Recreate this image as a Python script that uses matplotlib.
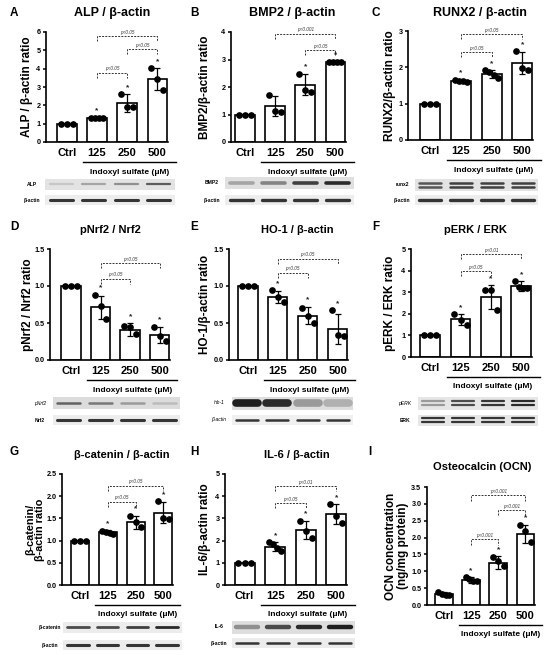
import numpy as np
import matplotlib.pyplot as plt
from matplotlib import transforms

plt.rcParams['font.family'] = ['Liberation Sans', 'DejaVu Sans']

groups = ['Ctrl', '125', '250', '500']

# A: ALP / beta-actin
alp_mean = [1.0, 1.3, 2.12, 3.42]
alp_sd = [0.02, 0.03, 0.48, 0.6]
alp_pts = [[1.0, 1.0, 1.0], [1.3, 1.3, 1.3, 1.3], [2.62, 1.93, 1.9], [4.02, 3.44, 2.83]]
alp_stars = [0, 1, 1, 1]
alp_sig = [(1, 2, 3.78, 'p<0.05'), (2, 3, 5.06, 'p<0.05'), (1, 3, 5.76, 'p<0.05')]
alp_band = [0.25, 0.4, 0.5, 0.72]

# B: BMP2 / beta-actin
bmp2_mean = [1.0, 1.3, 2.08, 2.9]
bmp2_sd = [0.02, 0.36, 0.38, 0.03]
bmp2_pts = [[1.0, 1.0, 1.0], [1.7, 1.12, 1.1], [2.48, 1.9, 1.82], [2.9, 2.9, 2.9, 2.9]]
bmp2_stars = [0, 0, 1, 1]
bmp2_sig = [(2, 3, 3.33, 'p<0.05'), (1, 3, 3.94, 'p<0.001')]
bmp2_band = [0.4, 0.55, 0.85, 0.95]

# C: RUNX2 / beta-actin
runx2_mean = [1.0, 1.62, 1.82, 2.12]
runx2_sd = [0.01, 0.04, 0.11, 0.3]
runx2_pts = [[1.0, 1.0, 1.0], [1.64, 1.63, 1.62, 1.6], [1.92, 1.87, 1.8, 1.72], [2.45, 1.98, 1.92]]
runx2_stars = [0, 1, 1, 1]
runx2_sig = [(1, 2, 2.42, 'p<0.05'), (1, 3, 2.91, 'p<0.05')]
runx2_band = [0.75, 0.85, 0.85, 0.85]

# D: pNrf2 / Nrf2
pnrf2_mean = [1.0, 0.71, 0.41, 0.34]
pnrf2_sd = [0.01, 0.16, 0.09, 0.11]
pnrf2_pts = [[1.0, 1.0, 1.0], [0.88, 0.73, 0.56], [0.46, 0.45, 0.35], [0.45, 0.32, 0.26]]
pnrf2_stars = [0, 1, 1, 1]
pnrf2_sig = [(1, 2, 1.1, 'p<0.05'), (1, 3, 1.31, 'p<0.05')]
pnrf2_band = [0.7, 0.6, 0.45, 0.3]

# E: HO-1 / beta-actin
ho1_mean = [1.0, 0.85, 0.6, 0.42]
ho1_sd = [0.01, 0.08, 0.12, 0.2]
ho1_pts = [[1.0, 1.0, 1.0], [0.94, 0.85, 0.78], [0.7, 0.6, 0.5], [0.67, 0.34, 0.32]]
ho1_stars = [0, 1, 1, 1]
ho1_sig = [(1, 2, 1.18, 'p<0.05'), (1, 3, 1.37, 'p<0.05')]
ho1_band = [1.0, 0.95, 0.45, 0.35]

# F: pERK / ERK
perk_mean = [1.0, 1.75, 2.77, 3.29]
perk_sd = [0.02, 0.25, 0.57, 0.22]
perk_pts = [[1.0, 1.0, 1.0], [2.0, 1.69, 1.5], [3.11, 3.08, 2.18], [3.52, 3.22, 3.2, 3.2]]
perk_stars = [0, 1, 1, 1]
perk_sig = [(1, 2, 3.98, 'p<0.05'), (1, 3, 4.75, 'p<0.01')]
perk_band = [0.45, 0.8, 0.9, 0.95]

# G: beta-catenin / beta-actin
bcat_mean = [1.0, 1.19, 1.41, 1.63]
bcat_sd = [0.01, 0.04, 0.15, 0.24]
bcat_pts = [[1.0, 1.0, 1.0], [1.22, 1.2, 1.18, 1.15], [1.56, 1.41, 1.3], [1.89, 1.5, 1.49]]
bcat_stars = [0, 1, 1, 1]
bcat_sig = [(1, 2, 1.88, 'p<0.05'), (1, 3, 2.24, 'p<0.05')]
bcat_band = [0.8, 0.8, 0.85, 0.95]

# H: IL-6 / beta-actin
il6_mean = [1.0, 1.73, 2.48, 3.18]
il6_sd = [0.02, 0.2, 0.4, 0.45]
il6_pts = [[1.0, 1.0, 1.0], [1.92, 1.85, 1.65, 1.55], [2.9, 2.45, 2.1], [3.65, 3.12, 2.8]]
il6_stars = [0, 1, 1, 1]
il6_sig = [(1, 2, 3.68, 'p<0.05'), (1, 3, 4.46, 'p<0.01')]
il6_band = [0.5, 0.8, 0.95, 1.0]

# I: Osteocalcin
ocn_mean = [0.33, 0.74, 1.26, 2.1]
ocn_sd = [0.05, 0.08, 0.18, 0.26]
ocn_pts = [[0.38, 0.33, 0.3, 0.3], [0.82, 0.76, 0.72, 0.7], [1.42, 1.3, 1.15], [2.38, 2.2, 1.86]]
ocn_stars = [0, 1, 1, 1]
ocn_sig = [(1, 2, 1.95, 'p<0.001'), (2, 3, 2.82, 'p<0.001'), (1, 3, 3.25, 'p<0.001')]

actin_band = [0.9, 0.9, 0.9, 0.9]

W, H = 550, 655
fig = plt.figure(figsize=(5.5, 6.55), dpi=100)

panels = [
    dict(letter='A', lxy=(10, 13), title='ALP / β-actin', txy=(112, 13), tsize=9,
         ylabel='ALP / β-actin ratio', ylx=27, ysz=8.5, box=(46, 122, 32, 142), xl=-0.69, ymax=6, ystep=1, fmt='%d',
         mean=alp_mean, sd=alp_sd, pts=alp_pts, stars=alp_stars, sig=alp_sig,
         blot=(45, 175), rows=[('ALP', alp_band, 184, 11, 1, 1.6, '#e3e3e3', False),
                               ('β-actin', actin_band, 200, 10, 1, 2.2, '#ededed', False)]),
    dict(letter='B', lxy=(190, 13), title='BMP2 / β-actin', txy=(292, 13), tsize=9,
         ylabel='BMP2/β-actin ratio', ylx=205, ysz=8.5, box=(231, 115, 32, 142), xl=-0.46, ymax=4, ystep=1, fmt='%d',
         mean=bmp2_mean, sd=bmp2_sd, pts=bmp2_pts, stars=bmp2_stars, sig=bmp2_sig,
         blot=(225, 354), rows=[('BMP2', bmp2_band, 183, 12, 1, 2.6, '#e0e0e0', False),
                                ('β-actin', actin_band, 200, 10, 1, 2.4, '#ededed', False)]),
    dict(letter='C', lxy=(372, 13), title='RUNX2 / β-actin', txy=(480, 13), tsize=9,
         ylabel='RUNX2/β-actin ratio', ylx=390, ysz=8.5, box=(408, 125, 31, 140), xl=-0.72, ymax=3, ystep=1, fmt='%d',
         mean=runx2_mean, sd=runx2_sd, pts=runx2_pts, stars=runx2_stars, sig=runx2_sig,
         blot=(415, 538), rows=[('runx2', runx2_band, 185, 12, 2, 1.8, '#e3e3e3', False),
                                ('β-actin', actin_band, 200, 10, 1, 2.4, '#ededed', False)]),
    dict(letter='D', lxy=(10, 227), title='pNrf2 / Nrf2', txy=(110, 230), tsize=8,
         ylabel='pNrf2 / Nrf2 ratio', ylx=28, ysz=8.5, box=(50, 120, 249, 360), xl=-0.71, ymax=1.5, ystep=0.5, fmt='%.1f',
         mean=pnrf2_mean, sd=pnrf2_sd, pts=pnrf2_pts, stars=pnrf2_stars, sig=pnrf2_sig,
         blot=(53, 180), rows=[('pNrf2', pnrf2_band, 403, 12, 1, 1.8, '#dcdcdc', True),
                               ('Nrf2', actin_band, 420, 10, 1, 2.2, '#ededed', False)]),
    dict(letter='E', lxy=(190, 227), title='HO-1 / β-actin', txy=(297, 230), tsize=8,
         ylabel='HO-1/β-actin ratio', ylx=205, ysz=8.5, box=(229, 119, 249, 360), xl=-0.63, ymax=1.5, ystep=0.5, fmt='%.1f',
         mean=ho1_mean, sd=ho1_sd, pts=ho1_pts, stars=ho1_stars, sig=ho1_sig,
         blot=(232, 353), rows=[('Ho-1', ho1_band, 403, 13, 1, 5.5, '#dedede', True),
                                ('β-actin', actin_band, 420, 10, 1, 1.8, '#f0f0f0', True)]),
    dict(letter='F', lxy=(372, 227), title='pERK / ERK', txy=(475, 230), tsize=8,
         ylabel='pERK / ERK ratio', ylx=390, ysz=8.5, box=(411, 121, 249, 357), xl=-0.63, ymax=5, ystep=1, fmt='%d',
         mean=perk_mean, sd=perk_sd, pts=perk_pts, stars=perk_stars, sig=perk_sig,
         blot=(418, 538), rows=[('pERK', perk_band, 403, 13, 2, 1.6, '#e6e6e6', True),
                                ('ERK', actin_band, 420, 11, 2, 1.6, '#e6e6e6', False)]),
    dict(letter='G', lxy=(10, 452), title='β-catenin / β-actin', txy=(122, 455), tsize=8,
         ylabel='β-catenin/\nβ-actin ratio', ylx=35, ysz=7.8, box=(62, 111, 474, 585), xl=-0.65, ymax=2.5, ystep=0.5, fmt='%.1f',
         mean=bcat_mean, sd=bcat_sd, pts=bcat_pts, stars=bcat_stars, sig=bcat_sig,
         blot=(63, 182), rows=[('β-catenin', bcat_band, 627, 11, 1, 2.0, '#ececec', False),
                               ('β-actin', actin_band, 645, 10, 1, 2.2, '#ececec', False)]),
    dict(letter='H', lxy=(190, 452), title='IL-6 / β-actin', txy=(297, 455), tsize=8,
         ylabel='IL-6/β-actin ratio', ylx=205, ysz=8.5, box=(225, 122, 474, 585), xl=-0.64, ymax=5, ystep=1, fmt='%d',
         mean=il6_mean, sd=il6_sd, pts=il6_pts, stars=il6_stars, sig=il6_sig,
         blot=(232, 355), rows=[('IL-6', il6_band, 627, 13, 1, 3.2, '#dedede', False),
                                ('β-actin', actin_band, 643, 10, 1, 1.8, '#ececec', False)]),
    dict(letter='I', lxy=(368, 452), title='Osteocalcin (OCN)', txy=(482, 467), tsize=8,
         ylabel='OCN concentration\n(ng/mg protein)', ylx=397, ysz=8.5, box=(427, 108, 487, 605), xl=-0.62, ymax=3.5, ystep=0.5, fmt='%.1f',
         mean=ocn_mean, sd=ocn_sd, pts=ocn_pts, stars=ocn_stars, sig=ocn_sig,
         blot=None, rows=[]),
]


def draw_panel(p):
    l, w, top, bot = p['box']
    ax = fig.add_axes([l / W, 1 - bot / H, w / W, (bot - top) / H])
    x = np.arange(len(groups))
    ymax = p['ymax']
    ax.bar(x, p['mean'], width=0.65, color='white', edgecolor='black', linewidth=1.2, zorder=1)
    ax.errorbar(x, p['mean'], yerr=p['sd'], fmt='none', ecolor='black', elinewidth=0.9,
                capsize=2.5, capthick=0.9, zorder=3)
    for i, pts in enumerate(p['pts']):
        off = np.linspace(-0.2, 0.2, len(pts))
        ax.plot(i + off, pts, 'o', color='black', ms=3.8, zorder=4, clip_on=False)
        if p['stars'][i]:
            top_val = max(max(pts), p['mean'][i] + p['sd'][i])
            ax.text(i, top_val + 0.06 * ymax, '*', ha='center', va='center', fontsize=6,
                    fontweight='bold', color='#222222')
    d = 0.045 * ymax
    for i, j, h, lab in p['sig']:
        ax.plot([i, i, j, j], [h - d, h, h, h - d], color='#333333', lw=0.7,
                ls=(0, (2, 1.3)), clip_on=False)
        ax.text((i + j) / 2, h + 0.012 * ymax, lab, ha='center', va='bottom', fontsize=3.3,
                style='italic', color='#333333')

    ax.set_xlim(p['xl'], 3.35)
    ax.set_ylim(0, ymax)
    yt = np.arange(0, ymax + 1e-9, p['ystep'])
    ax.set_yticks(yt)
    ax.set_yticklabels([p['fmt'] % v for v in yt], fontsize=5.2, fontweight='bold')
    ax.set_xticks(x)
    ax.set_xticklabels(groups, fontsize=8, fontweight='bold')
    ax.tick_params(axis='x', length=0, pad=4)
    ax.tick_params(axis='y', length=2.5, width=1.1, pad=1.5)
    for s in ['top', 'right']:
        ax.spines[s].set_visible(False)
    for s in ['left', 'bottom']:
        ax.spines[s].set_linewidth(1.2)

    # Indoxyl sulfate underline
    tr = transforms.blended_transform_factory(ax.transData, ax.transAxes)
    line_tr = tr + transforms.ScaledTranslation(0, -20 / 100, fig.dpi_scale_trans)
    text_tr = tr + transforms.ScaledTranslation(0, -30 / 100, fig.dpi_scale_trans)
    ax.plot([0.55, 3.6], [0, 0], transform=line_tr, color='black', lw=1.0, clip_on=False)
    ax.text(2.07, 0, 'Indoxyl sulfate (μM)', transform=text_tr, ha='center', va='center',
            fontsize=6, fontweight='bold')

    fig.text(p['lxy'][0] / W, 1 - p['lxy'][1] / H, p['letter'], fontsize=8.5,
             fontweight='bold', ha='left', va='center')
    fig.text(p['txy'][0] / W, 1 - p['txy'][1] / H, p['title'], fontsize=p['tsize'],
             fontweight='bold', ha='center', va='center')
    fig.text(p['ylx'] / W, 1 - (top + bot) / 2 / H, p['ylabel'], rotation=90, fontsize=p['ysz'],
             fontweight='bold', ha='center', va='center', linespacing=0.95)

    if p['blot'] is None:
        return
    bl, br = p['blot']
    for lab, levels, yc, hh, nb, lw, bg, ital in p['rows']:
        bax = fig.add_axes([bl / W, 1 - (yc + hh / 2) / H, (br - bl) / W, hh / H])
        bax.set_facecolor(bg)
        bax.set_xlim(-0.5, 3.5)
        bax.set_ylim(0, 1)
        ys = [0.5] if nb == 1 else [0.36, 0.66]
        for i, v in enumerate(levels):
            g = 1 - 0.88 * v
            for yy in ys:
                bax.plot([i - 0.36, i + 0.36], [yy, yy], color=(g, g, g), lw=lw,
                         solid_capstyle='round')
        bax.set_xticks([])
        bax.set_yticks([])
        for s in bax.spines.values():
            s.set_visible(False)
        fig.text((bl - 13) / W, 1 - yc / H, lab, fontsize=3.6, ha='center', va='center',
                 style='italic' if ital else 'normal', fontweight='bold' if not ital else 'normal')


for p in panels:
    draw_panel(p)

fig.savefig('out.png', dpi=100)
